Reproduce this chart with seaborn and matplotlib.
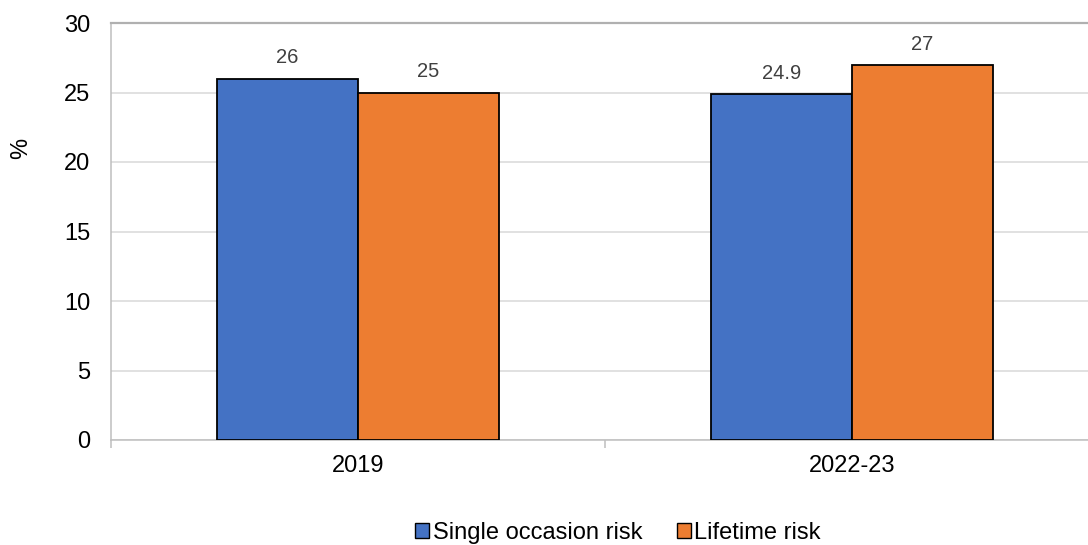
import matplotlib
matplotlib.use("Agg")
import matplotlib.pyplot as plt
import seaborn as sns
import pandas as pd
from matplotlib.patches import Patch

periods = ["2019", "2022-23"]
series = ["Single occasion risk", "Lifetime risk"]
single_occasion = [26, 24.9]
lifetime = [25, 27]
colors = ["#4472C4", "#ED7D31"]

df = pd.DataFrame({
    "period": periods * 2,
    "series": [series[0]] * 2 + [series[1]] * 2,
    "value": single_occasion + lifetime,
})

sns.set_theme(style="white")
plt.rcParams["font.family"] = ["Liberation Sans", "DejaVu Sans"]
plt.rcParams["text.color"] = "black"

fig = plt.figure(figsize=(10.88, 5.45), dpi=100)
ax = fig.add_axes([111 / 1088, 1 - 440 / 545, (1099 - 111) / 1088, (440 - 23) / 545])

sns.barplot(data=df, x="period", y="value", hue="series", order=periods,
            hue_order=series, palette=colors, width=0.571, gap=0,
            edgecolor="black", linewidth=1.3, saturation=1, ax=ax,
            legend=False, zorder=3)

for cont in ax.containers:
    ax.bar_label(cont, labels=[f"{v:g}" for v in cont.datavalues],
                 padding=8, fontsize=14.5, color="#404040")

ax.set_ylim(0, 30)
ax.set_xlim(-0.5, 1.5)
ax.set_yticks(range(0, 31, 5))
ax.yaxis.grid(True, color="#d9d9d9", linewidth=1.1, zorder=0)
ax.set_axisbelow(True)

for side in ["left", "bottom"]:
    ax.spines[side].set_color("#bfbfbf")
    ax.spines[side].set_linewidth(1.1)
ax.spines["top"].set_color("#b0b0b0")
ax.spines["top"].set_linewidth(1.6)
ax.spines["right"].set_visible(False)

ax.tick_params(axis="y", length=0, pad=15, labelsize=17, labelcolor="black")
ax.tick_params(axis="x", which="major", length=0, pad=11, labelsize=17, labelcolor="black")
ax.set_xticks([-0.5, 0.5, 1.5], minor=True)
ax.tick_params(axis="x", which="minor", length=6, width=1.1, color="#bfbfbf", direction="out")
ax.xaxis.set_ticks_position("bottom")

ax.set_xlabel("")
ax.set_ylabel("%", fontsize=17, color="black", va="center")
ax.yaxis.set_label_coords(-0.091, 0.70)

handles = [Patch(facecolor=c, edgecolor="black", linewidth=1.0) for c in colors]
fig.legend(handles, series, loc="center", bbox_to_anchor=(618 / 1088, 1 - 533 / 545),
           ncol=2, frameon=False, fontsize=17, handlelength=0.6, handleheight=0.6,
           handletextpad=0.15, columnspacing=1.45, borderpad=0, labelcolor="black")

fig.savefig("out.png", dpi=100)
